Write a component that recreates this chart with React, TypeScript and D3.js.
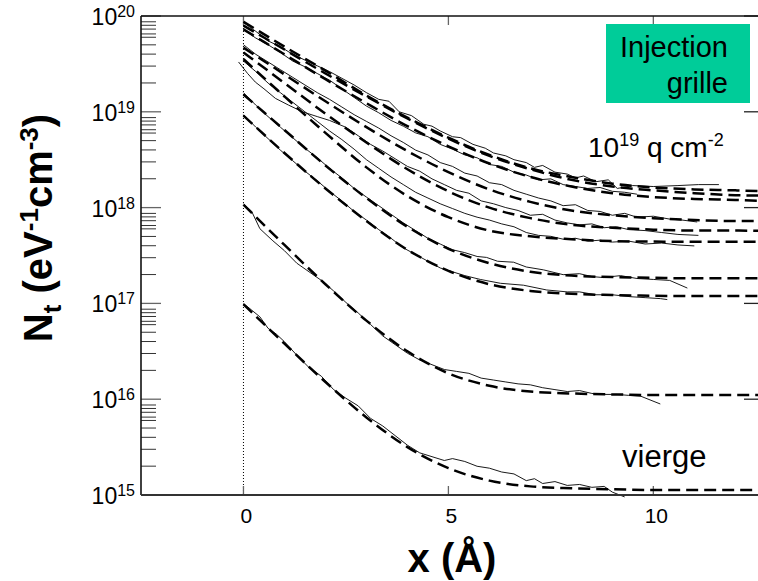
import React from "react";
import * as d3 from "d3";

const W = 758;
const H = 581;

// x positions of the fitted (dashed) curves, in Å
const fitX = [0, 1, 2, 3, 4, 5, 6, 7, 8, 9, 10, 11, 12, 12.7];
// fitted curves, log10(Nt)
const fit1 = [19.94, 19.68, 19.43, 19.17, 18.94, 18.73, 18.55, 18.41, 18.32, 18.25, 18.21, 18.19, 18.18, 18.17];
const fit2 = [19.9, 19.65, 19.4, 19.16, 18.93, 18.72, 18.54, 18.4, 18.29, 18.22, 18.18, 18.15, 18.13, 18.125];
const fit3 = [19.86, 19.6, 19.34, 19.09, 18.85, 18.64, 18.46, 18.32, 18.22, 18.15, 18.11, 18.09, 18.08, 18.07];
const fit4 = [19.67, 19.39, 19.11, 18.84, 18.59, 18.37, 18.19, 18.06, 17.97, 17.92, 17.89, 17.87, 17.86, 17.86];
const fit5 = [19.62, 19.3, 18.98, 18.68, 18.4, 18.17, 18.0, 17.89, 17.82, 17.79, 17.77, 17.76, 17.76, 17.756];
const fit6 = [19.55, 19.16, 18.78, 18.42, 18.12, 17.9, 17.76, 17.7, 17.67, 17.65, 17.645, 17.644, 17.644, 17.644];
const fit7 = [19.18, 18.81, 18.44, 18.1, 17.8, 17.57, 17.42, 17.33, 17.29, 17.275, 17.267, 17.262, 17.262, 17.262];
const fit8 = [18.96, 18.57, 18.2, 17.86, 17.56, 17.34, 17.2, 17.13, 17.1, 17.087, 17.08, 17.077, 17.077, 17.077];
const fit9 = [18.03, 17.61, 17.2, 16.82, 16.5, 16.27, 16.14, 16.08, 16.06, 16.05, 16.044, 16.044, 16.044, 16.044];
const fit10 = [16.99, 16.58, 16.18, 15.81, 15.5, 15.28, 15.15, 15.09, 15.07, 15.06, 15.052, 15.052, 15.052, 15.052];
const fits = [fit1, fit2, fit3, fit4, fit5, fit6, fit7, fit8, fit9, fit10];

// measured curves: [x (Å), log10(Nt)]
const meas1: [number, number][] = [[0,19.93],[0.3,19.84],[0.6,19.74],[0.9,19.68],[1.2,19.6],[1.5,19.54],[1.8,19.48],[2.1,19.42],[2.4,19.35],[2.7,19.28],[3.0,19.2],[3.3,19.13],[3.55,19.11],[3.8,19.0],[4.1,18.96],[4.4,18.87],[4.6,18.85],[4.8,18.8],[5.1,18.74],[5.3,18.73],[5.6,18.66],[5.9,18.62],[6.1,18.57],[6.4,18.54],[6.6,18.5],[6.9,18.47],[7.1,18.42],[7.3,18.44],[7.6,18.37],[7.9,18.35],[8.1,18.31],[8.3,18.33],[8.6,18.27],[8.9,18.29],[9.12,18.2],[9.5,18.23],[10.0,18.22],[10.6,18.23],[11.1,18.24],[11.6,18.24]];
const meas2: [number, number][] = [[0,19.86],[0.3,19.77],[0.6,19.7],[0.9,19.62],[1.2,19.53],[1.5,19.47],[1.8,19.4],[2.1,19.33],[2.4,19.24],[2.7,19.15],[3.0,19.06],[3.3,18.99],[3.6,18.91],[3.9,18.85],[4.2,18.78],[4.5,18.74],[4.8,18.66],[5.1,18.61],[5.4,18.55],[5.7,18.52],[6.0,18.45],[6.3,18.43],[6.6,18.37],[6.9,18.34],[7.2,18.29],[7.5,18.3],[7.8,18.24],[8.1,18.22],[8.4,18.2],[8.7,18.21],[9.0,18.17],[9.3,18.16],[9.6,18.14]];
const meas3: [number, number][] = [[0,19.7],[0.3,19.6],[0.6,19.52],[0.9,19.44],[1.2,19.36],[1.5,19.28],[1.8,19.2],[2.1,19.13],[2.4,19.05],[2.7,18.97],[3.0,18.9],[3.3,18.83],[3.6,18.75],[3.9,18.68],[4.2,18.6],[4.5,18.55],[4.8,18.47],[5.1,18.43],[5.4,18.36],[5.7,18.33],[6.0,18.26],[6.3,18.24],[6.6,18.18],[6.9,18.14],[7.2,18.1],[7.5,18.07],[7.8,18.02],[8.1,18.03],[8.4,17.97],[8.7,17.96],[9.0,17.92],[9.3,17.94],[9.6,17.9],[10.0,17.91],[10.4,17.88],[10.7,17.87],[11.07,17.85]];
const meas4: [number, number][] = [[-0.12,19.52],[0.1,19.4],[0.29,19.31],[0.5,19.24],[0.78,19.14],[1.1,19.07],[1.44,19.0],[1.8,18.95],[2.1,18.91],[2.49,18.84],[2.8,18.75],[3.1,18.66],[3.4,18.59],[3.7,18.51],[4.0,18.43],[4.3,18.38],[4.6,18.3],[4.9,18.24],[5.2,18.18],[5.5,18.15],[5.8,18.07],[6.1,18.04],[6.4,18.0],[6.7,17.97],[7.0,17.92],[7.3,17.93],[7.6,17.87],[7.9,17.84],[8.2,17.82],[8.5,17.83],[8.8,17.79],[9.1,17.8],[9.4,17.77],[9.8,17.76],[10.2,17.74],[10.6,17.72],[11.1,17.71]];
const meas5: [number, number][] = [[0,19.53],[0.3,19.42],[0.6,19.3],[0.9,19.2],[1.2,19.1],[1.5,19.0],[1.8,18.9],[2.1,18.8],[2.4,18.71],[2.7,18.61],[3.0,18.5],[3.3,18.41],[3.6,18.32],[3.9,18.24],[4.2,18.16],[4.5,18.1],[4.8,18.04],[5.1,17.99],[5.4,17.94],[5.7,17.9],[6.0,17.87],[6.3,17.83],[6.6,17.8],[6.9,17.74],[7.2,17.71],[7.5,17.7],[7.8,17.67],[8.1,17.68],[8.4,17.65],[8.7,17.66],[9.0,17.64],[9.4,17.65],[9.8,17.62],[10.2,17.63],[10.6,17.61],[11.0,17.6]];
const meas6: [number, number][] = [[0,19.2],[0.3,19.07],[0.6,18.95],[0.9,18.84],[1.2,18.73],[1.5,18.62],[1.8,18.52],[2.1,18.41],[2.4,18.31],[2.7,18.2],[3.0,18.11],[3.3,18.02],[3.6,17.93],[3.9,17.84],[4.2,17.76],[4.5,17.68],[4.8,17.62],[5.1,17.56],[5.4,17.53],[5.7,17.49],[5.93,17.48],[6.2,17.44],[6.59,17.43],[6.9,17.38],[7.32,17.35],[7.8,17.3],[8.2,17.31],[8.5,17.28],[8.78,17.27],[9.2,17.29],[9.6,17.26],[10.0,17.25],[10.4,17.24],[10.83,17.16]];
const meas7: [number, number][] = [[0,18.97],[0.3,18.84],[0.6,18.72],[0.9,18.6],[1.2,18.49],[1.5,18.38],[1.8,18.28],[2.1,18.17],[2.4,18.07],[2.7,17.96],[3.0,17.87],[3.3,17.77],[3.6,17.68],[3.9,17.58],[4.2,17.51],[4.5,17.44],[4.8,17.37],[5.1,17.33],[5.4,17.29],[5.78,17.25],[6.27,17.21],[6.83,17.19],[7.4,17.14],[7.9,17.12],[8.2,17.12],[8.6,17.09],[9.0,17.09],[9.44,17.07],[9.8,17.06],[10.17,17.05],[10.34,17.04]];
const meas8: [number, number][] = [[0,18.04],[0.2,17.96],[0.4,17.78],[0.7,17.66],[1.0,17.55],[1.3,17.42],[1.6,17.33],[1.9,17.24],[2.2,17.13],[2.5,17.01],[2.8,16.9],[3.1,16.78],[3.4,16.66],[3.7,16.57],[4.0,16.48],[4.3,16.41],[4.6,16.36],[4.9,16.31],[5.2,16.29],[5.5,16.27],[5.8,16.22],[6.1,16.2],[6.4,16.18],[6.7,16.16],[7.0,16.15],[7.3,16.12],[7.6,16.1],[7.9,16.08],[8.2,16.09],[8.5,16.06],[8.8,16.05],[9.1,16.05],[9.4,16.04],[9.7,16.03],[10.17,15.95]];
const meas9: [number, number][] = [[0,17.0],[0.2,16.93],[0.4,16.86],[0.6,16.74],[0.8,16.68],[1.0,16.6],[1.3,16.46],[1.6,16.33],[1.9,16.24],[2.2,16.1],[2.5,16.01],[2.8,15.93],[3.1,15.8],[3.4,15.72],[3.7,15.62],[4.0,15.52],[4.3,15.44],[4.6,15.4],[4.9,15.36],[5.1,15.38],[5.4,15.35],[5.7,15.3],[6.0,15.28],[6.3,15.24],[6.6,15.22],[6.9,15.15],[7.1,15.17],[7.3,15.12],[7.6,15.14],[7.9,15.1],[8.2,15.11],[8.5,15.08],[8.8,15.09],[9.0,15.03],[9.3,14.98]];
const measured = [meas1, meas2, meas3, meas4, meas5, meas6, meas7, meas8, meas9];

const decades = [15, 16, 17, 18, 19, 20];
const minorMult = [2, 3, 4, 5, 6, 6.5, 7.3, 8, 8.7];
const xTicks = [0, 5, 10];

const FONT = "'Liberation Sans', Arial, Helvetica, sans-serif";

export default function App() {
  const left = 141, top = 16, bottom = 495, right = 764;
  const x = d3.scaleLinear().domain([-2.5, 12.7]).range([left, right]);
  const y = d3.scaleLog().domain([1e15, 1e20]).range([bottom, top]);

  const fitLine = d3
    .line<number>()
    .x((_, i) => x(fitX[i]))
    .y((v) => y(Math.pow(10, v)))
    .curve(d3.curveMonotoneX);
  const measLine = d3
    .line<[number, number]>()
    .x((d) => x(d[0]))
    .y((d) => y(Math.pow(10, d[1])));

  const minorTicks: number[] = [];
  decades.slice(0, -1).forEach((d) => minorMult.forEach((m) => minorTicks.push(m * Math.pow(10, d))));

  const tickCol = "#666";

  return (
    <svg
      width={W}
      height={H}
      style={{ position: "absolute", left: 0, top: 0, background: "#fff" }}
      fontFamily={FONT}
    >
      {/* dotted zero line */}
      <line x1={x(0)} x2={x(0)} y1={top} y2={bottom} stroke="#000" strokeWidth={1} strokeDasharray="1,2" />

      {/* minor y ticks */}
      {minorTicks.map((v, i) => (
        <line key={"mt" + i} x1={left} x2={left + 15} y1={y(v)} y2={y(v)} stroke="#333" strokeWidth={1} />
      ))}
      {/* major y ticks */}
      {decades.map((d) => (
        <g key={"d" + d}>
          <line x1={left} x2={left + 20} y1={y(Math.pow(10, d))} y2={y(Math.pow(10, d))} stroke={tickCol} strokeWidth={1.3} />
          <line x1={right} x2={right - 20} y1={y(Math.pow(10, d))} y2={y(Math.pow(10, d))} stroke="#222" strokeWidth={1.3} />
          <text x={135} y={y(Math.pow(10, d)) + 9} textAnchor="end" fontSize={23} fill="#000">
            <tspan>10</tspan>
            <tspan dy={-8} fontSize={16}>{d}</tspan>
          </text>
        </g>
      ))}

      {/* x ticks */}
      {xTicks.map((t) => (
        <g key={"xt" + t}>
          <line x1={x(t)} x2={x(t)} y1={bottom} y2={bottom - 9} stroke={tickCol} strokeWidth={1.3} />
          <line x1={x(t)} x2={x(t)} y1={top} y2={top + 9} stroke={tickCol} strokeWidth={1.3} />
          <text x={x(t) + 3} y={523} textAnchor="middle" fontSize={21} fill="#000">
            {t}
          </text>
        </g>
      ))}

      {/* fitted curves */}
      {fits.map((f, i) => (
        <path key={"f" + i} d={fitLine(f) || ""} fill="none" stroke="#000" strokeWidth={2.5} strokeDasharray="12,6" />
      ))}
      {/* measured curves */}
      {measured.map((m, i) => (
        <path key={"m" + i} d={measLine(m) || ""} fill="none" stroke="#000" strokeWidth={0.9} />
      ))}

      {/* frame */}
      <line x1={left} x2={W} y1={top} y2={top} stroke="#111" strokeWidth={1.6} />
      <line x1={left} x2={left} y1={top} y2={bottom} stroke="#111" strokeWidth={1.6} />
      <line x1={left} x2={W} y1={bottom} y2={bottom} stroke="#333" strokeWidth={2} />

      {/* legend box */}
      <rect x={606} y={24} width={144} height={79} fill="#00CC99" />
      <text x={728} y={57} textAnchor="end" fontSize={29} fill="#000">Injection</text>
      <text x={728} y={93} textAnchor="end" fontSize={29} fill="#000">grille</text>

      {/* annotations */}
      <text x={588} y={157} fontSize={28} fill="#000">
        <tspan>10</tspan>
        <tspan dy={-11} fontSize={18}>19</tspan>
        <tspan dy={11}> q cm</tspan>
        <tspan dy={-11} fontSize={18}>-2</tspan>
      </text>
      <text x={622} y={467} fontSize={31} fill="#000">vierge</text>

      {/* axis titles */}
      <text x={452} y={572} textAnchor="middle" fontSize={40} fontWeight="bold" fill="#000">
        x (Å)
      </text>
      <text transform="translate(52,228) rotate(-90)" textAnchor="middle" fontSize={40} fontWeight="bold" fill="#000">
        <tspan>N</tspan>
        <tspan dy={9} fontSize={26}>t</tspan>
        <tspan dy={-9}> (eV</tspan>
        <tspan dy={-14} fontSize={26}>-1</tspan>
        <tspan dy={14}>cm</tspan>
        <tspan dy={-14} fontSize={26}>-3</tspan>
        <tspan dy={14}>)</tspan>
      </text>
    </svg>
  );
}
